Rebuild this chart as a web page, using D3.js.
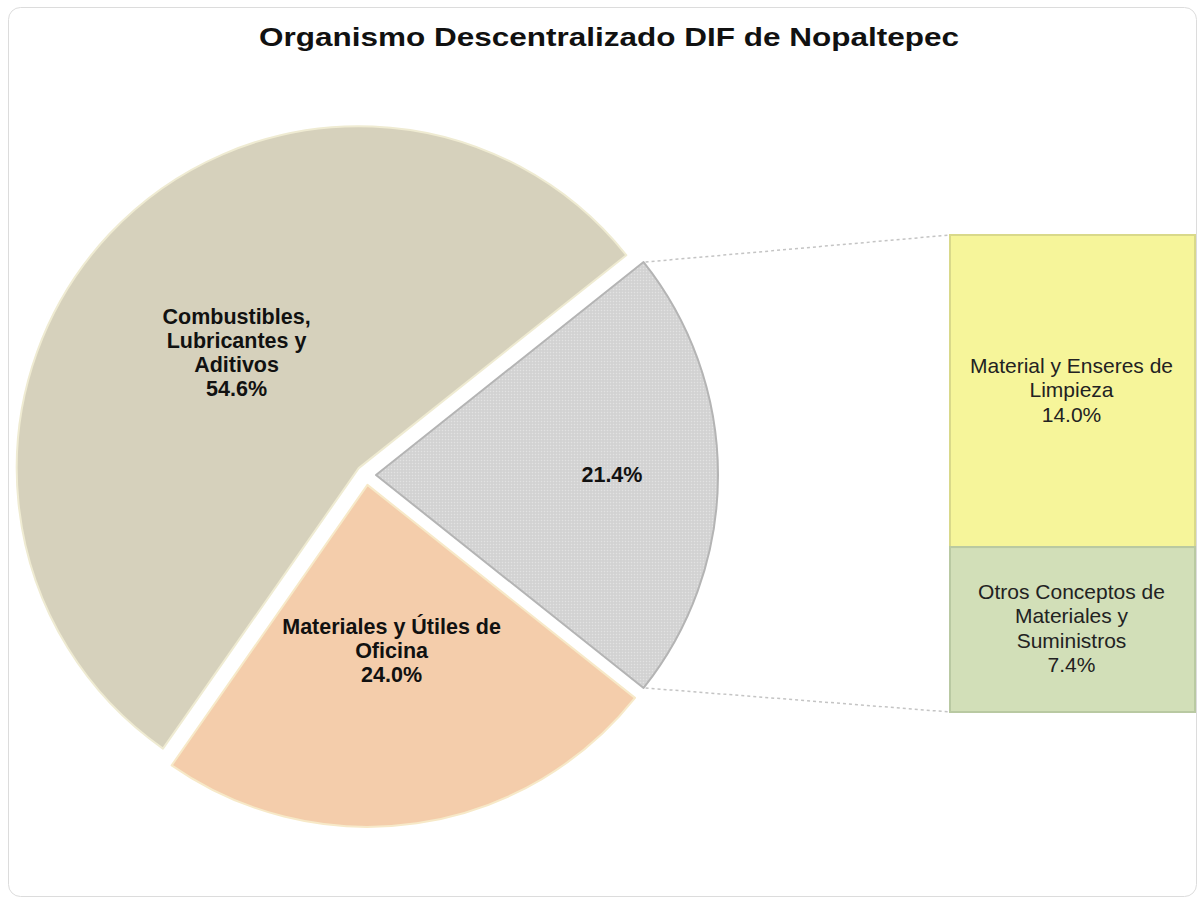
<!DOCTYPE html>
<html>
<head>
<meta charset="utf-8">
<script src="https://cdn.jsdelivr.net/npm/d3@7"></script>
<style>
  html, body { margin: 0; padding: 0; background: #ffffff; }
  svg { display: block; }
</style>
</head>
<body>
<svg id="chart" width="1203" height="902"></svg>
<script>
// ---- Data ----
const title = "Organismo Descentralizado DIF de Nopaltepec";
const pieCategories = ["Otros", "Materiales y Útiles de Oficina", "Combustibles, Lubricantes y Aditivos"];
const pieValues = [21.4, 24.0, 54.6];
const pieLabelLines = [["21.4%"], ["Materiales y Útiles de", "Oficina", "24.0%"], ["Combustibles,", "Lubricantes y", "Aditivos", "54.6%"]];
const barCategories = ["Material y Enseres de Limpieza", "Otros Conceptos de Materiales y Suministros"];
const barValues = [14.0, 7.4];
const barLabelLines = [["Material y Enseres de", "Limpieza", "14.0%"], ["Otros Conceptos de", "Materiales y", "Suministros", "7.4%"]];

// ---- Styles ----
const pieFills = ["url(#dots)", "#f4cdab", "#d6d1bc"];
const pieStrokes = ["#b4b4b4", "#f7e9c8", "#efebd2"];
const barFills = ["#f6f59a", "#d2dfb8"];
const barStrokes = ["#d9d98a", "#b9c9a2"];

const svg = d3.select("#chart");

// card
svg.append("rect").attr("x", 8.5).attr("y", 7.5).attr("width", 1188).attr("height", 889)
  .attr("rx", 12).attr("fill", "#fff").attr("stroke", "#dcdcdc").attr("stroke-width", 1);

const defs = svg.append("defs");
const pat = defs.append("pattern").attr("id", "dots").attr("patternUnits", "userSpaceOnUse")
  .attr("width", 3).attr("height", 3);
pat.append("rect").attr("width", 3).attr("height", 3).attr("fill", "#d5d5d5");
pat.append("rect").attr("x", 0).attr("y", 0).attr("width", 1).attr("height", 1).attr("fill", "#e2e2e2");
pat.append("rect").attr("x", 1.5).attr("y", 1.5).attr("width", 1).attr("height", 1).attr("fill", "#cbcbcb");

// title
svg.append("text").attr("x", 609).attr("y", 46).attr("text-anchor", "middle")
  .attr("font-family", "Liberation Sans, Arial, sans-serif").attr("font-weight", "bold")
  .attr("font-size", 26).attr("fill", "#111")
  .attr("textLength", 700).attr("lengthAdjust", "spacingAndGlyphs")
  .text(title);

// ---- Pie ----
const cx = 366, cy = 475, R = 342, explode = 10;
const total = d3.sum(pieValues);
const start = Math.PI / 2 - (pieValues[0] / total) * Math.PI;
const pie = d3.pie().sort(null).value(d => d).startAngle(start).endAngle(start + 2 * Math.PI);
const arcs = pie(pieValues);
const arc = d3.arc().innerRadius(0).outerRadius(R);
const labelFactor = [0.69, 0.49, 0.49];

const gPie = svg.append("g").attr("transform", `translate(${cx},${cy})`);
const offsets = arcs.map(a => {
  const m = (a.startAngle + a.endAngle) / 2;
  return [Math.sin(m) * explode, -Math.cos(m) * explode];
});

arcs.forEach((a, i) => {
  const g = gPie.append("g").attr("transform", `translate(${offsets[i][0]},${offsets[i][1]})`);
  g.append("path").attr("d", arc(a)).attr("fill", pieFills[i])
    .attr("stroke", pieStrokes[i]).attr("stroke-width", 2).attr("stroke-linejoin", "round");
  const lr = R * labelFactor[i];
  const c = d3.arc().innerRadius(lr).outerRadius(lr).centroid(a);
  const lines = pieLabelLines[i];
  const lh = 24;
  const t = g.append("text").attr("text-anchor", "middle")
    .attr("font-family", "Liberation Sans, Arial, sans-serif").attr("font-weight", "bold")
    .attr("font-size", 21.5).attr("fill", "#111");
  lines.forEach((ln, k) => {
    t.append("tspan").attr("x", c[0]).attr("y", c[1] + (k - (lines.length - 1) / 2) * lh + 7).text(ln);
  });
});

// ---- Bar ----
const barX = 950, barW = 245;
const barTotal = d3.sum(barValues);
const y = d3.scaleLinear().domain([0, barTotal]).range([235, 712]);
let acc = 0;
const stacks = barValues.map(v => { const s = { y0: acc, y1: acc + v }; acc += v; return s; });

const gBar = svg.append("g");
stacks.forEach((s, i) => {
  gBar.append("rect").attr("x", barX).attr("y", y(s.y0)).attr("width", barW)
    .attr("height", y(s.y1) - y(s.y0)).attr("fill", barFills[i])
    .attr("stroke", barStrokes[i]).attr("stroke-width", 2);
  const mid = (y(s.y0) + y(s.y1)) / 2;
  const lines = barLabelLines[i];
  const lh = 24.5;
  const t = gBar.append("text").attr("text-anchor", "middle")
    .attr("font-family", "Liberation Sans, Arial, sans-serif")
    .attr("font-size", 21).attr("fill", "#222");
  lines.forEach((ln, k) => {
    t.append("tspan").attr("x", barX + barW / 2 - 1).attr("y", mid + (k - (lines.length - 1) / 2) * lh + 6).text(ln);
  });
});

// ---- Connector lines ----
const ga = arcs[0];
const p1 = [cx + offsets[0][0] + Math.sin(ga.startAngle) * R, cy + offsets[0][1] - Math.cos(ga.startAngle) * R];
const p2 = [cx + offsets[0][0] + Math.sin(ga.endAngle) * R, cy + offsets[0][1] - Math.cos(ga.endAngle) * R];
[[p1, [barX, y(0)]], [p2, [barX, y(barTotal)]]].forEach(([a, b]) => {
  svg.append("line").attr("x1", a[0] + 2).attr("y1", a[1]).attr("x2", b[0]).attr("y2", b[1])
    .attr("stroke", "#c4c4c4").attr("stroke-width", 1.5).attr("stroke-dasharray", "3,3");
});
</script>
</body>
</html>
